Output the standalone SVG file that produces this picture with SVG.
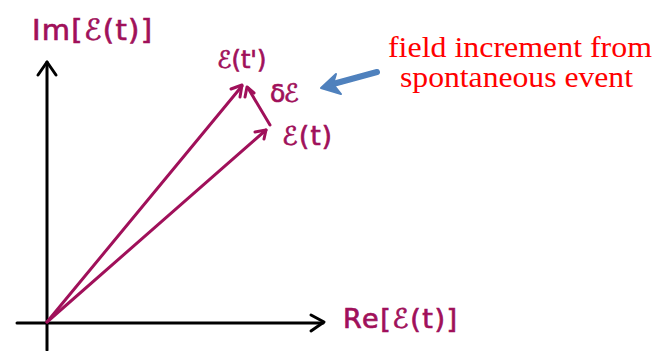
<svg xmlns="http://www.w3.org/2000/svg" width="667" height="351" viewBox="0 0 667 351">
<style>
.ax{stroke:#000;stroke-width:3;fill:none;stroke-linecap:round;stroke-linejoin:round}
.vec{stroke:#A0105A;stroke-width:3;fill:none;stroke-linecap:round;stroke-linejoin:round}
.hw{font-family:"DejaVu Sans","Liberation Sans",sans-serif;fill:#A0105A;stroke:#A0105A;stroke-width:0.7}
.red{font-family:"Liberation Serif","Times New Roman",serif;fill:#FF0000;font-size:30px}
</style>
<rect width="667" height="351" fill="#fff"/>
<g id="connectors">
  <g id="axes">
    <path class="ax" d="M47 350 L47 62"/>
    <path class="ax" d="M38 75 L47 62 L56 75"/>
    <path class="ax" d="M17 323 L323 323"/>
    <path class="ax" d="M311 315 L324 322 L311 331"/>
  </g>
  <g id="vectors">
    <path class="vec" d="M47 322 L242 86"/>
    <path class="vec" d="M231 89 L242 85 L240 97"/>
    <path class="vec" d="M47 322 L266 130"/>
    <path class="vec" d="M255 132 L266 130 L264 139"/>
    <path class="vec" d="M270 125 L248 88"/>
    <path class="vec" d="M245 97 L247 87 L254 93"/>
  </g>
  <g id="pointer">
    <path d="M377 72 L333 84" stroke="#4F81BD" stroke-width="6" fill="none" stroke-linecap="round"/>
    <path d="M321 88 L336 74 L333 84 L341 94 Z" fill="#4F81BD" stroke="#4F81BD" stroke-width="2" stroke-linejoin="round"/>
  </g>
</g>
<g id="label-im"><text class="hw" x="32" y="40" font-size="29" textLength="120" lengthAdjust="spacing">Im[ℰ(t)]</text></g>
<g id="label-re"><text class="hw" x="343" y="328" font-size="27" textLength="114" lengthAdjust="spacing">Re[ℰ(t)]</text></g>
<g id="label-et-prime"><text class="hw" x="217" y="68" font-size="24">ℰ(t')</text></g>
<g id="label-delta"><text class="hw" x="270" y="102" font-size="25" textLength="29" lengthAdjust="spacing">δℰ</text></g>
<g id="label-et"><text class="hw" x="282" y="145" font-size="26" textLength="50" lengthAdjust="spacing">ℰ(t)</text></g>
<g id="annotation">
  <text class="red" x="388" y="57" textLength="264" lengthAdjust="spacingAndGlyphs">field increment from</text>
  <text class="red" x="400" y="87" textLength="233" lengthAdjust="spacingAndGlyphs">spontaneous event</text>
</g>
</svg>
